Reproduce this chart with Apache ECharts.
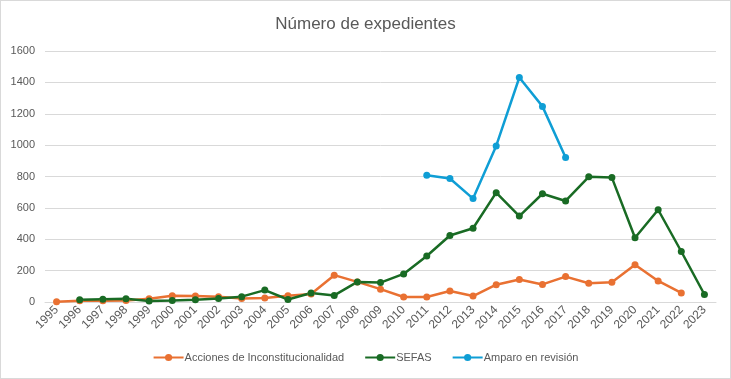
<!DOCTYPE html>
<html>
<head>
<meta charset="utf-8">
<script src="https://cdn.jsdelivr.net/npm/echarts@6/dist/echarts.min.js"></script>
<style>
html,body{margin:0;padding:0;background:#fff;}
#chart{width:731px;height:379px;box-sizing:border-box;border:1px solid #d9d9d9;}
</style>
</head>
<body>
<div id="chart"></div>
<script>
const years = ['1995','1996','1997','1998','1999','2000','2001','2002','2003','2004','2005','2006','2007','2008','2009','2010','2011','2012','2013','2014','2015','2016','2017','2018','2019','2020','2021','2022','2023'];
const acciones = [2, 8, 8, 10, 20, 40, 38, 34, 22, 26, 40, 51, 171, 128, 82, 32, 32, 70, 38, 110, 143, 112, 162, 120, 126, 238, 134, 58, null];
const sefas = [null, 14, 18, 20, 6, 10, 15, 23, 34, 76, 16, 57, 42, 128, 124, 179, 293, 424, 470, 697, 548, 690, 644, 798, 793, 410, 588, 322, 48];
const amparo = [null, null, null, null, null, null, null, null, null, null, null, null, null, null, null, null, 808, 787, 659, 995, 1431, 1247, 921, null, null, null, null, null, null];
const yTicks = [0, 200, 400, 600, 800, 1000, 1200, 1400, 1600];

const chart = echarts.init(document.getElementById('chart'));
const font = "'Liberation Sans', Arial, sans-serif";
function ser(name, data, color) {
  return {
    name: name, type: 'line', data: data, connectNulls: false,
    symbol: 'circle', symbolSize: 7,
    lineStyle: { color: color, width: 2.5 },
    itemStyle: { color: color },
    emphasis: { disabled: true }
  };
}
chart.setOption({
  animation: false,
  backgroundColor: '#ffffff',
  textStyle: { fontFamily: font },
  title: {
    text: 'Número de expedientes', left: 'center', top: 10,
    textStyle: { fontSize: 17, fontWeight: 'normal', color: '#595959', fontFamily: font }
  },
  grid: { left: 44, right: 14, top: 50, bottom: 76, containLabel: false },
  legend: {
    bottom: 10, left: 'center', itemWidth: 30, itemHeight: 9, itemGap: 20,
    textStyle: { fontSize: 11, color: '#595959', fontFamily: font, padding: [0, 0, 0, -4] },
    data: ['Acciones de Inconstitucionalidad', 'SEFAS', 'Amparo en revisión']
  },
  xAxis: {
    type: 'category', data: years, boundaryGap: true,
    axisLine: { show: true, lineStyle: { color: '#d9d9d9', width: 1 } },
    axisTick: { show: false },
    axisLabel: { rotate: 45, fontSize: 12, color: '#595959', margin: 6, interval: 0, fontFamily: font }
  },
  yAxis: {
    type: 'value', min: yTicks[0], max: yTicks[yTicks.length - 1], interval: 200,
    axisLine: { show: false }, axisTick: { show: false },
    splitLine: { lineStyle: { color: '#d9d9d9', width: 1 } },
    axisLabel: { fontSize: 11, color: '#595959', margin: 10, fontFamily: font, formatter: function (v) { return String(v); } }
  },
  series: [
    ser('Acciones de Inconstitucionalidad', acciones, '#E97132'),
    ser('SEFAS', sefas, '#196B24'),
    ser('Amparo en revisión', amparo, '#0F9ED5')
  ]
});
</script>
</body>
</html>
